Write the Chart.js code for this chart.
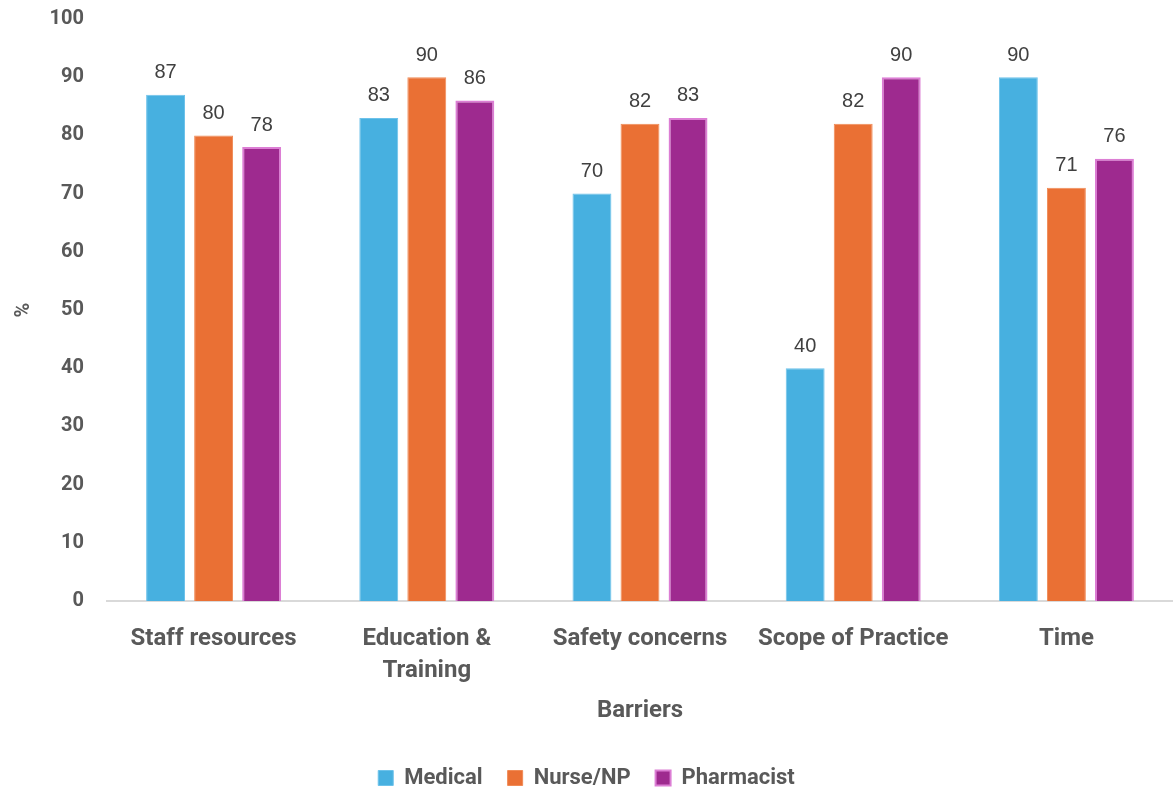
<!DOCTYPE html>
<html>
<head>
<meta charset="utf-8">
<script src="https://cdn.jsdelivr.net/npm/chart.js@4"></script>
<style>
  html, body { margin: 0; padding: 0; background: #fff; }
  #wrap { width: 1173px; height: 788px; }
</style>
</head>
<body>
<div id="wrap"><canvas id="myChart" width="1173" height="788"></canvas></div>
<script>
// categories and values
const barriers = ['Staff resources', ['Education &', 'Training'], 'Safety concerns', 'Scope of Practice', 'Time']
const medical = [87, 83, 70, 40, 90]
const nurse = [80, 90, 82, 82, 71]
const pharmacist = [78, 86, 83, 90, 76]
const yTicks = [0, 10, 20, 30, 40, 50, 60, 70, 80, 90, 100]

const grey = '#595959'
const boldFont = 'Roboto'

// little plugin for the numbers above the bars
const valueLabels = {
  id: 'valueLabels',
  afterDatasetsDraw(chart) {
    const c = chart.ctx
    c.save()
    c.font = '20px "Liberation Sans"'
    c.fillStyle = '#404040'
    c.textAlign = 'center'
    c.textBaseline = 'bottom'
    chart.data.datasets.forEach((ds, i) => {
      chart.getDatasetMeta(i).data.forEach((bar, j) => {
        c.fillText(ds.data[j], bar.x, bar.y - 12)
      })
    })
    c.restore()
  }
}

let ctx = document.querySelector('#myChart')
new Chart(ctx, {
  type: 'bar',
  data: {
    labels: barriers,
    datasets: [
      { label: 'Medical', data: medical, backgroundColor: '#47B0E0', borderColor: '#6DC2EA', borderWidth: 1 },
      { label: 'Nurse/NP', data: nurse, backgroundColor: '#EA7034', borderColor: '#F08A55', borderWidth: 1 },
      { label: 'Pharmacist', data: pharmacist, backgroundColor: '#9E2A8F', borderColor: '#DC7ED4', borderWidth: 2 }
    ]
  },
  options: {
    responsive: false,
    animation: false,
    categoryPercentage: 0.676,
    barPercentage: 0.81,
    layout: { padding: { top: 19, right: 0, left: 0, bottom: -11 } },
    plugins: {
      legend: {
        position: 'bottom',
        labels: {
          boxWidth: 15,
          boxHeight: 15,
          padding: 25,
          color: grey,
          font: { family: boldFont, size: 22, weight: 'bold' }
        }
      },
      tooltip: { enabled: false }
    },
    scales: {
      x: {
        grid: { display: false, drawTicks: false },
        border: { color: '#D9D9D9', width: 2 },
        ticks: {
          color: grey,
          padding: 22,
          font: { family: boldFont, size: 24, weight: 'bold', lineHeight: 1.33 }
        },
        title: {
          display: true,
          text: 'Barriers',
          color: grey,
          padding: { top: 0, bottom: 17 },
          font: { family: boldFont, size: 24, weight: 'bold' }
        },
        afterFit(scale) { scale.height = 141 }
      },
      y: {
        min: 0,
        max: 100,
        afterBuildTicks(scale) { scale.ticks = yTicks.map(v => ({ value: v })) },
        grid: { display: false, drawTicks: false },
        border: { display: false },
        ticks: {
          color: grey,
          padding: 23,
          font: { family: boldFont, size: 20, weight: 'bold' }
        },
        title: {
          display: true,
          text: '%',
          color: grey,
          padding: { top: 12, bottom: 0 },
          font: { family: boldFont, size: 20, weight: 'bold' }
        },
        afterFit(scale) {
          scale.width = 107
          scale.paddingTop = 10
          scale.paddingBottom = 10
        }
      }
    }
  },
  plugins: [valueLabels]
})
</script>
</body>
</html>
